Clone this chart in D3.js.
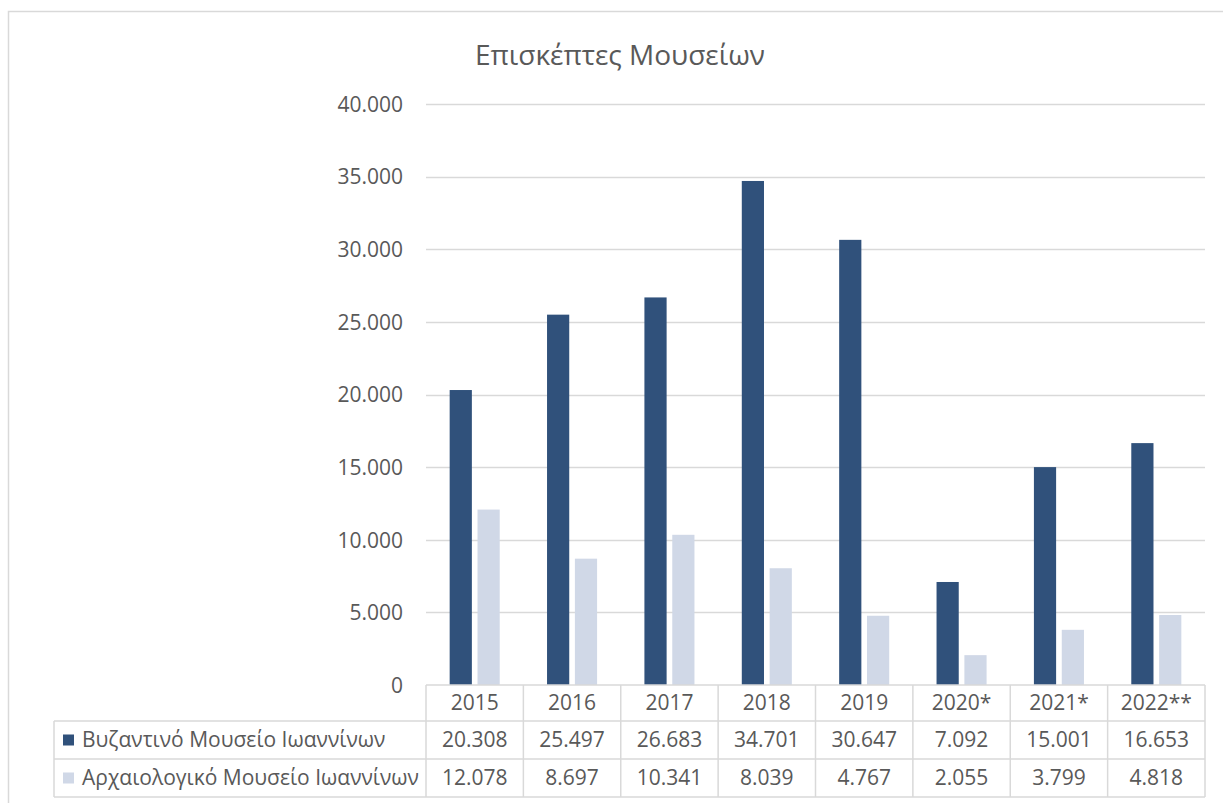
<!DOCTYPE html>
<html>
<head>
<meta charset="utf-8">
<script src="https://cdn.jsdelivr.net/npm/d3@7"></script>
<style>
html,body{margin:0;padding:0;background:#fff;}
svg{display:block;}
text{font-family:"Open Sans","Noto Sans",sans-serif;fill:#595959;}
</style>
</head>
<body>
<svg id="chart" width="1223" height="803"></svg>
<script>
const title = "Επισκέπτες Μουσείων";
const categories = ["2015","2016","2017","2018","2019","2020*","2021*","2022**"];
const seriesNames = ["Βυζαντινό Μουσείο Ιωαννίνων","Αρχαιολογικό Μουσείο Ιωαννίνων"];
const byzantine = [20308,25497,26683,34701,30647,7092,15001,16653];
const archaeological = [12078,8697,10341,8039,4767,2055,3799,4818];
const yTicks = [0,5000,10000,15000,20000,25000,30000,35000,40000];
const colors = ["#30517B","#D0D8E7"];

(function(){
const svg = d3.select("#chart");
const pLeft = 426, pRight = 1205, pTop = 104, pBottom = 685;
const gridColor = "#d9d9d9";

// outer border
svg.append("rect").attr("x",8.5).attr("y",11.5).attr("width",1400).attr("height",1000)
  .attr("fill","none").attr("stroke",gridColor).attr("stroke-width",1.5);

// title
svg.append("text").attr("x",620).attr("y",65).attr("text-anchor","middle")
  .style("font-size","28px").text(title);

const x = d3.scaleBand().domain(categories).range([pLeft,pRight]).paddingInner(0).paddingOuter(0);
const y = d3.scaleLinear().domain([0,40000]).range([pBottom,pTop]);
const fmt = v => d3.format(",")(v).replace(/,/g,".");

// gridlines
svg.append("g").selectAll("line").data(yTicks.filter(d=>d>0)).join("line")
  .attr("x1",pLeft).attr("x2",pRight)
  .attr("y1",d=>Math.round(y(d))+0.5).attr("y2",d=>Math.round(y(d))+0.5)
  .attr("stroke",gridColor).attr("stroke-width",1.5);

// y axis labels
const yAxis = d3.axisLeft(y).tickValues(yTicks).tickFormat(fmt).tickSize(0).tickPadding(0);
const gy = svg.append("g").attr("transform",`translate(403,0)`).call(yAxis);
gy.select(".domain").remove();
gy.selectAll("text").style("font-size","21px").attr("fill","#595959")
  .style("font-family","'Open Sans','Noto Sans',sans-serif").attr("dy","0.35em");

// bars
const bw = x.bandwidth();
const barW = bw*0.228, gap = bw*0.058;
const groupOffset = (bw - (barW*2+gap))/2;
const seriesData = [byzantine, archaeological];
seriesData.forEach((vals,si)=>{
  svg.append("g").selectAll("rect").data(vals.map((v,i)=>({v,c:categories[i]}))).join("rect")
    .attr("x",d=>x(d.c)+groupOffset + si*(barW+gap))
    .attr("width",barW)
    .attr("y",d=>y(d.v))
    .attr("height",d=>y(0)-y(d.v))
    .attr("fill",colors[si]);
});

// data table
const rowY = [685,721,759,797];
const tableLeft = 54;
const tg = svg.append("g").attr("stroke",gridColor).attr("stroke-width",1.5).attr("fill","none");
tg.append("line").attr("x1",pLeft).attr("x2",pRight).attr("y1",rowY[0]).attr("y2",rowY[0]);
[1,2,3].forEach(r=>{
  tg.append("line").attr("x1",tableLeft).attr("x2",pRight).attr("y1",rowY[r]).attr("y2",rowY[r]);
});
categories.forEach(c=>{
  tg.append("line").attr("x1",x(c)).attr("x2",x(c)).attr("y1",rowY[0]).attr("y2",rowY[3]);
});
tg.append("line").attr("x1",pRight).attr("x2",pRight).attr("y1",rowY[0]).attr("y2",rowY[3]);
tg.append("line").attr("x1",tableLeft).attr("x2",tableLeft).attr("y1",rowY[1]).attr("y2",rowY[3]);

// header
svg.append("g").selectAll("text").data(categories).join("text")
  .attr("x",d=>x(d)+bw/2).attr("y",(rowY[0]+rowY[1])/2).attr("dy","0.35em")
  .attr("text-anchor","middle").style("font-size","21px").text(d=>d);

seriesData.forEach((vals,si)=>{
  const cy = (rowY[si+1]+rowY[si+2])/2;
  svg.append("g").selectAll("text").data(vals.map((v,i)=>({v,c:categories[i]}))).join("text")
    .attr("x",d=>x(d.c)+bw/2).attr("y",cy).attr("dy","0.35em")
    .attr("text-anchor","middle").style("font-size","21px").text(d=>fmt(d.v));
  svg.append("rect").attr("x",63).attr("y",cy-5.5).attr("width",11).attr("height",11).attr("fill",colors[si]);
  svg.append("text").attr("x",82).attr("y",cy).attr("dy","0.35em").style("font-size","21px")
    .text(seriesNames[si]);
});
})();
</script>
</body>
</html>
